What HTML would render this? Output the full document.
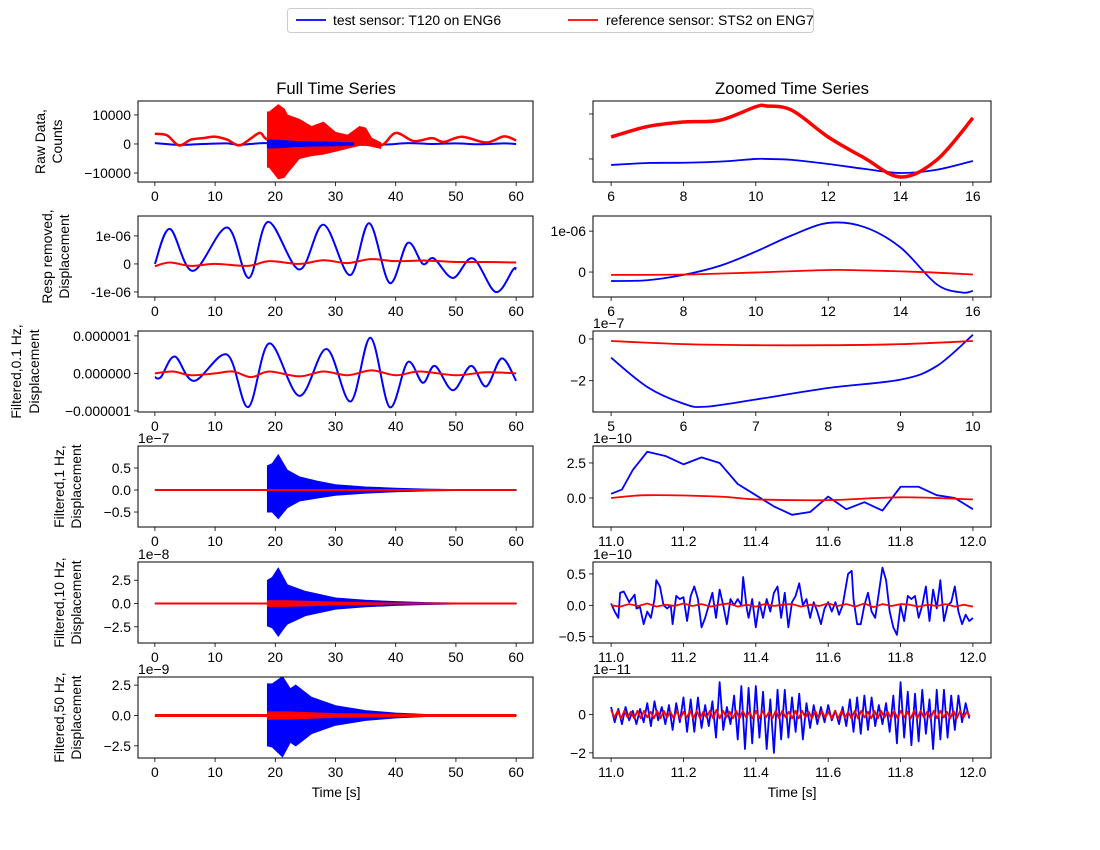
<!DOCTYPE html>
<html><head><meta charset="utf-8"><style>
body{margin:0;background:#fff}
svg{display:block;font-family:"Liberation Sans","DejaVu Sans",sans-serif}
</style></head><body>
<svg id="fig" width="1100" height="850" viewBox="0 0 1100 850" xmlns="http://www.w3.org/2000/svg">
<rect width="1100" height="850" fill="#fff"/>
<g>
<rect x="287.5" y="8.5" width="526" height="24" rx="3" fill="#fff" stroke="#ccc"/>
<line x1="296" y1="20" x2="326" y2="20" stroke="#0000ff" stroke-width="1.8"/>
<text x="333" y="25" font-size="13.9">test sensor: T120 on ENG6</text>
<line x1="568" y1="20" x2="598" y2="20" stroke="#ff0000" stroke-width="1.8"/>
<text x="606" y="25" font-size="13.9">reference sensor: STS2 on ENG7</text>
</g>
<text x="336" y="94" font-size="16.7" text-anchor="middle">Full Time Series</text>
<text x="792" y="94" font-size="16.7" text-anchor="middle">Zoomed Time Series</text>
<text x="336" y="797" font-size="13.9" text-anchor="middle">Time [s]</text>
<text x="792" y="797" font-size="13.9" text-anchor="middle">Time [s]</text>
</svg>
<script>
// ---------- data ----------
const fullTicks=[0,10,20,30,40,50,60];
// Row 1 raw counts
const r1RedT=[0,2,4,6,8,10,12,14,16,17.5,18.7,22,26,30,34,37.5,40,43,46,48,51,55,58,60];
const r1RedV=[3500,3000,-500,1500,2000,2500,1500,-500,2000,3800,1500,500,1000,500,2500,-500,3800,1000,2000,700,2500,500,2600,1200];
const r1RedBT=[18.7,19,20.5,21.5,22,24,26,28,30,32,34,35,36,37.5];
const r1RedBU=[11000,11000,13500,12000,10000,8500,6000,7500,4000,3000,6000,5500,2000,500];
const r1RedBL=[-8000,-8000,-12000,-11500,-10000,-5000,-4000,-3500,-2500,-1500,-500,-500,-800,-1500];
const r1BlueT=[0,4,8,12,14,18,22,26,30,34,38,42,46,50,54,58,60];
const r1BlueV=[300,-300,0,200,-300,300,0,200,0,500,-200,300,0,200,-100,200,0];
const r1BlueBT=[18.7,19,21,23,26,30,33];
const r1BlueBU=[2500,2800,2500,1800,1500,1200,800];
const r1BlueBL=[-2500,-2800,-2500,-1800,-1500,-1200,-800];
const r1zT=[6,7,8,9,10,10.3,11,12,13,14,15,16];
const r1zRed=[2440,3600,4110,4300,5800,5890,5400,2440,110,-2000,-110,4560];
const r1zBlue=[-670,-450,-420,-300,0,0,-100,-560,-1100,-1560,-1200,-220];
// Row 2 response removed (1e-6)
const r2T=[0,2.5,6.3,12,15.6,18.8,24,28,32.4,35.6,39,42,44.5,46.3,49.5,52.8,56.6,59.5,60];
const r2Blue=[0,1.25,-0.25,1.3,-0.5,1.5,-0.2,1.4,-0.4,1.45,-0.68,0.75,0,0.2,-0.5,0.2,-1.0,-0.2,-0.2];
const r2RT=[0,2.5,6,10,15.5,19,24,28,32,35.8,40,45,50,55,60];
const r2Red=[-0.08,0.05,-0.07,0,-0.07,0.1,0,0.13,0.03,0.17,0.1,0.12,0.07,0.07,0.05];
const r2zT=[6,7,8,9,10,11,12,13,14,15,15.7,16];
const r2zBlue=[-0.22,-0.2,-0.07,0.15,0.5,0.9,1.2,1.1,0.6,-0.3,-0.5,-0.46];
const r2zRT=[6,8,10,12,13,14.6,16];
const r2zRed=[-0.07,-0.06,-0.01,0.05,0.04,0,-0.06];
// Row 3 filtered 0.1 Hz (1e-6)
const r3T=[0,1,3.3,6.5,12,15.5,19,24,28.5,32.5,35.8,39,42,44.5,46.5,49.5,52.5,55,57.6,60];
const r3Blue=[-0.1,-0.1,0.45,-0.2,0.5,-0.9,0.8,-0.6,0.65,-0.75,0.95,-0.9,0.3,-0.25,0.2,-0.45,0.2,-0.35,0.4,-0.2];
const r3RT=[0,3,6,10,13,16,19,24,28,32,36,40,44,50,55,60];
const r3Red=[0,0.05,-0.05,0,0.05,-0.1,0.05,-0.08,0.05,-0.05,0.08,-0.05,0.05,-0.05,0.03,0];
const r3zT=[5,5.5,6,6.3,7,8,9,9.5,10];
const r3zBlue=[-0.9,-2.3,-3.1,-3.25,-2.9,-2.35,-1.95,-1.3,0.2];
const r3zRT=[5,6,7,8,9,10];
const r3zRed=[-0.1,-0.25,-0.3,-0.3,-0.25,-0.1];
// Row 4 filtered 1 Hz (1e-7 full, 1e-10 zoom)
const r4BT=[18.7,19.5,20.5,22,24,27,30,35,40,45,50,60];
const r4BU=[0.55,0.6,0.8,0.45,0.3,0.2,0.12,0.07,0.04,0.02,0.01,0.005];
const r4BL=[-0.5,-0.5,-0.65,-0.4,-0.25,-0.18,-0.12,-0.07,-0.04,-0.02,-0.01,-0.005];
const r4zT=[11.0,11.03,11.06,11.1,11.15,11.2,11.25,11.3,11.35,11.4,11.45,11.5,11.55,11.6,11.65,11.7,11.75,11.8,11.85,11.9,11.95,12.0];
const r4zBlue=[0.3,0.6,2.0,3.3,3.0,2.4,2.9,2.5,1.0,0.2,-0.6,-1.2,-1.0,0.1,-0.8,-0.3,-0.9,0.8,0.8,0.2,0,-0.8];
const r4zRT=[11,11.1,11.3,11.4,11.6,11.8,12];
const r4zRed=[0,0.2,0.1,-0.1,-0.15,0.05,-0.1];
// Row 5 filtered 10 Hz (1e-8 full, 1e-10 zoom)
const r5BT=[18.7,19.5,20.5,21.5,22,25,30,35,40,45,50,60];
const r5BU=[2.5,2.8,3.8,2.6,2.0,1.3,0.6,0.35,0.2,0.1,0.05,0.02];
const r5BL=[-2.4,-2.6,-3.5,-2.6,-2.2,-1.3,-0.6,-0.35,-0.2,-0.1,-0.05,-0.02];
const r5RBT=[18.7,22,30,40,60];
const r5RBU=[0.3,0.3,0.15,0.05,0.02];
const r5RBL=[-0.3,-0.3,-0.15,-0.05,-0.02];
const r5zT=[11.00,11.01,11.02,11.025,11.035,11.05,11.065,11.07,11.08,11.09,11.10,11.11,11.12,11.125,11.135,11.145,11.155,11.165,11.17,11.18,11.19,11.2,11.21,11.22,11.23,11.24,11.25,11.26,11.27,11.28,11.29,11.3,11.31,11.32,11.33,11.34,11.35,11.36,11.365,11.375,11.38,11.39,11.40,11.41,11.42,11.43,11.44,11.45,11.46,11.47,11.48,11.49,11.5,11.51,11.52,11.53,11.54,11.55,11.56,11.57,11.58,11.59,11.6,11.61,11.62,11.63,11.64,11.655,11.665,11.67,11.68,11.69,11.7,11.71,11.72,11.73,11.74,11.75,11.76,11.77,11.78,11.79,11.8,11.81,11.82,11.83,11.84,11.85,11.86,11.87,11.88,11.89,11.9,11.91,11.92,11.93,11.94,11.95,11.96,11.97,11.98,11.99,12.0];
const r5zBlue=[0.03,-0.1,-0.2,0.2,0.22,0.05,0.17,-0.05,-0.03,-0.3,-0.1,-0.2,0.1,0.4,0.3,0.0,-0.05,0.0,-0.3,0.15,0.1,0.13,-0.25,0.15,0.3,0.1,-0.35,-0.2,0.0,0.2,-0.2,0.25,0.0,-0.3,0.1,0.0,0.1,0.0,0.45,-0.05,-0.2,0.1,-0.35,0.05,-0.2,0.1,-0.1,0.2,0.3,-0.2,0.2,-0.35,0.05,0.15,0.35,0.0,0.1,-0.2,0.05,-0.1,-0.3,-0.05,0.05,-0.1,0.05,-0.15,0.0,0.5,0.55,0.1,-0.3,-0.3,0.0,0.2,-0.1,-0.2,0.2,0.6,0.4,-0.1,-0.35,-0.47,0.0,-0.25,0.15,0.1,0.15,-0.2,0.0,0.3,-0.25,0.25,-0.05,0.4,-0.25,0.0,0.05,0.3,-0.1,-0.3,-0.15,-0.25,-0.2];
const r5zRed=[0,-0.02,0.02,-0.01,0.03,-0.02,0.01,-0.01,0.03,-0.01,0.02,-0.02,0.01,0.03,-0.02,0.01,-0.02,0.02,-0.01,0.01,0.02,-0.02,0.01,-0.01,0.03,-0.01,0.02,-0.02,0.03,-0.03,0.02,-0.01,0.02,0.01,-0.02,0.01,-0.01,0.02,-0.02,0.01,-0.02];
// Row 6 filtered 50 Hz (1e-9 full, 1e-11 zoom)
const r6BT=[18.7,19.5,21.2,22.5,23.4,26,30,35,40,45,50,60];
const r6BU=[2.6,2.6,3.2,2.2,2.5,1.5,0.8,0.4,0.2,0.08,0.04,0.02];
const r6BL=[-2.5,-2.6,-3.4,-2.2,-2.5,-1.5,-0.8,-0.4,-0.2,-0.08,-0.04,-0.02];
const r6RBT=[18.7,22,30,40,46,60];
const r6RBU=[0.3,0.3,0.15,0.1,0.05,0.02];
const r6RBL=[-0.3,-0.3,-0.15,-0.1,-0.05,-0.02];
const r6zUp=[0.4,0.3,0.4,0.2,0.3,0.6,0.7,0.4,0.5,0.6,0.9,0.8,0.9,0.5,0.7,1.7,0.4,1.0,1.5,1.4,1.5,1.2,0.8,1.3,1.3,0.9,1.1,0.6,0.5,0.4,0.5,0.2,0.4,0.8,0.9,1.0,0.9,0.5,0.6,1.0,1.7,1.2,1.1,1.3,0.8,1.3,1.3,1.0,1.0,0.6];
const r6zLo=[-0.4,-0.5,-0.3,-0.5,-0.4,-0.6,-0.3,-0.5,-0.8,-0.4,-0.9,-0.9,-0.7,-0.6,-1.2,-0.8,-0.5,-1.3,-1.8,-1.5,-1.2,-1.8,-2.0,-1.3,-1.2,-0.9,-1.3,-0.7,-0.5,-0.4,-0.3,-0.5,-0.6,-0.9,-1.0,-0.8,-0.6,-0.5,-0.9,-1.5,-1.2,-1.6,-1.4,-1.0,-1.8,-1.3,-1.2,-0.8,-0.4,-0.2];
const r6zRedUp=[0.25,0.2,0.2,0.15,0.2,0.2,0.15,0.2,0.2,0.15,0.2,0.15,0.2,0.2,0.15,0.2,0.25,0.2,0.15,0.2,0.2,0.15,0.2,0.2,0.15,0.2,0.2,0.15,0.2,0.2,0.15,0.2,0.2,0.15,0.2,0.2,0.15,0.2,0.2,0.15,0.2,0.2,0.15,0.2,0.2,0.15,0.2,0.2,0.15,0.2,0.2,0.15,0.2,0.2,0.15];
const r6zRedLo=[-0.15,-0.2,-0.15,-0.2,-0.2,-0.15,-0.2,-0.2,-0.15,-0.2,-0.2,-0.15,-0.2,-0.2,-0.15,-0.2,-0.2,-0.15,-0.2,-0.2,-0.15,-0.2,-0.2,-0.15,-0.2,-0.2,-0.15,-0.2,-0.2,-0.15,-0.2,-0.2,-0.15,-0.2,-0.2,-0.15,-0.2,-0.2,-0.15,-0.2,-0.2,-0.15,-0.2,-0.2,-0.15,-0.2,-0.2,-0.15,-0.2,-0.2,-0.15,-0.2,-0.2,-0.15,-0.1];

// ---------- rendering ----------
const NS='http://www.w3.org/2000/svg';
const fig=document.getElementById('fig');
function mk(tag,attrs,parent){const e=document.createElementNS(NS,tag);for(const k in attrs)e.setAttribute(k,attrs[k]);(parent||fig).appendChild(e);return e;}
const tops=[101,216,331,446,562,677],H=81;
function makeAxes(name,col,row,xd,yd,xticks,xlab,yticks,ylab,offset,ylines,ylx){
  const x0=col?593:138,x1=col?991:533,y0=tops[row],y1=y0+H;
  const g=mk('g',{});
  
  
  const sx=v=>x0+(v-xd[0])/(xd[1]-xd[0])*(x1-x0);
  const sy=v=>y1-(v-yd[0])/(yd[1]-yd[0])*(y1-y0);
  const cid='clip-'+name;
  const cp=mk('clipPath',{id:cid},g);mk('rect',{x:x0,y:y0,width:x1-x0,height:H},cp);
  const plot=mk('g',{'clip-path':'url(#'+cid+')'},g);
  
  
  xticks.forEach((t,i)=>{const X=sx(t);mk('line',{x1:X,x2:X,y1:y1,y2:y1+4,stroke:'#000','stroke-width':0.8},g);
    const tx=mk('text',{x:X,y:y1+19,'font-size':13.9,'text-anchor':'middle'},g);tx.textContent=xlab[i];
    
    });
  yticks.forEach((t,i)=>{const Y=sy(t);mk('line',{x1:x0-4,x2:x0,y1:Y,y2:Y,stroke:'#000','stroke-width':0.8},g);
    if(ylab[i]!==''){const tx=mk('text',{x:x0-7,y:Y+5,'font-size':13.9,'text-anchor':'end'},g);tx.textContent=ylab[i];
    
    }});
  if(offset){const o=mk('text',{x:x0,y:y0-3,'font-size':13.9},g);o.textContent=offset;
    
    }
  if(ylines){ylines.forEach((s,i)=>{const X=ylx[i],Y=(y0+y1)/2;const t=mk('text',{x:X,y:Y,'font-size':13.9,'text-anchor':'middle',transform:`rotate(-90 ${X} ${Y})`},g);t.textContent=s;
    
    });}
  mk('rect',{x:x0,y:y0,width:x1-x0,height:H,fill:'none',stroke:'#000','stroke-width':1},g);
  return {sx,sy,plot};
}
function smooth(ax,xs,ys,color,w,name){
  const P=xs.map((x,i)=>[ax.sx(x),ax.sy(ys[i])]);
  let d='M'+P[0][0]+','+P[0][1];
  for(let i=0;i<P.length-1;i++){const p0=P[i-1]||P[i],p1=P[i],p2=P[i+1],p3=P[i+2]||P[i+1];
    const c1=[p1[0]+(p2[0]-p0[0])/6,p1[1]+(p2[1]-p0[1])/6],c2=[p2[0]-(p3[0]-p1[0])/6,p2[1]-(p3[1]-p1[1])/6];
    d+=`C${c1[0]},${c1[1]} ${c2[0]},${c2[1]} ${p2[0]},${p2[1]}`;}
  const e=mk('path',{d,fill:'none',stroke:color,'stroke-width':w,'stroke-linejoin':'round'},ax.plot);
  
  
}
function linear(ax,xs,ys,color,w,name){
  const e=mk('polyline',{points:xs.map((x,i)=>ax.sx(x)+','+ax.sy(ys[i])).join(' '),fill:'none',stroke:color,'stroke-width':w,'stroke-linejoin':'round'},ax.plot);
  
  
}
function band(ax,xs,up,lo,color,name){
  const pts=xs.map((x,i)=>ax.sx(x)+','+ax.sy(up[i])).concat(xs.slice().reverse().map((x,j)=>ax.sx(x)+','+ax.sy(lo[xs.length-1-j])));
  const e=mk('polygon',{points:pts.join(' '),fill:color,stroke:color,'stroke-width':1},ax.plot);
  
  
}
function alt(t0,dt,up,lo){const xs=[],ys=[];for(let i=0;i<up.length;i++){xs.push(t0+i*dt);ys.push(up[i]);if(i<lo.length){xs.push(t0+i*dt+dt/2);ys.push(lo[i]);}}return [xs,ys];}
const FX=[-2.8,62.8],FL=fullTicks.map(String);
const zx1=[6,8,10,12,14,16],zx3=[5,6,7,8,9,10],zx4=[11.0,11.2,11.4,11.6,11.8,12.0];
const zl4=zx4.map(v=>v.toFixed(1));

// Row 1
let a=makeAxes('raw-full',0,0,FX,[-13100,14800],fullTicks,FL,[10000,0,-10000],['10000','0','\u221210000'],null,['Raw Data,','Counts'],[45,62]);
smooth(a,r1BlueT,r1BlueV,'#0000ff',2,'raw-test-line');
band(a,r1BlueBT,r1BlueBU,r1BlueBL,'#0000ff','raw-test-burst');
smooth(a,r1RedT,r1RedV,'#ff0000',2.5,'raw-ref-line');
band(a,r1RedBT,r1RedBU,r1RedBL,'#ff0000','raw-ref-burst');
band(a,r1BlueBT,r1BlueBU.map(v=>v*0.5),r1BlueBL.map(v=>v*0.5),'#0000ff','raw-test-burst-core');
a=makeAxes('raw-zoom',1,0,[5.5,16.5],[-2560,6440],zx1,zx1.map(String),[0,5000],['',''],null);
smooth(a,r1zT,r1zBlue,'#0000ff',1.8,'raw-zoom-test');
smooth(a,r1zT,r1zRed,'#ff0000',3.5,'raw-zoom-ref');
// Row 2
a=makeAxes('resp-full',0,1,FX,[-1.18,1.71],fullTicks,FL,[1,0,-1],['1e-06','0','-1e-06'],null,['Resp removed,','Displacement'],[52,69]);
smooth(a,r2T,r2Blue,'#0000ff',2,'resp-test-line');
smooth(a,r2RT,r2Red,'#ff0000',2,'resp-ref-line');
a=makeAxes('resp-zoom',1,1,[5.5,16.5],[-0.61,1.37],zx1,zx1.map(String),[1,0],['1e-06','0'],null);
smooth(a,r2zT,r2zBlue,'#0000ff',1.8,'resp-zoom-test');
smooth(a,r2zRT,r2zRed,'#ff0000',1.8,'resp-zoom-ref');
// Row 3
a=makeAxes('f01-full',0,2,FX,[-1.03,1.13],fullTicks,FL,[1,0,-1],['0.000001','0.000000','\u22120.000001'],null,['Filtered,0.1 Hz,','Displacement'],[21,39]);
smooth(a,r3T,r3Blue,'#0000ff',2,'f01-test-line');
smooth(a,r3RT,r3Red,'#ff0000',2,'f01-ref-line');
a=makeAxes('f01-zoom',1,2,[4.75,10.25],[-3.5,0.38],zx3,zx3.map(String),[0,-2],['0','\u22122'],'1e\u22127');
smooth(a,r3zT,r3zBlue,'#0000ff',1.8,'f01-zoom-test');
smooth(a,r3zRT,r3zRed,'#ff0000',1.8,'f01-zoom-ref');
// Row 4
a=makeAxes('f1-full',0,3,FX,[-0.84,1.0],fullTicks,FL,[0.5,0,-0.5],['0.5','0.0','\u22120.5'],'1e\u22127',['Filtered,1 Hz,','Displacement'],[64,81]);
linear(a,[0,60],[0,0],'#0000ff',2,'f1-test-baseline');
band(a,r4BT,r4BU,r4BL,'#0000ff','f1-test-burst');
linear(a,[0,60],[0,0],'#ff0000',2,'f1-ref-line');
a=makeAxes('f1-zoom',1,3,[10.95,12.05],[-2.07,3.71],zx4,zl4,[2.5,0],['2.5','0.0'],'1e\u221210');
linear(a,r4zT,r4zBlue,'#0000ff',1.8,'f1-zoom-test');
smooth(a,r4zRT,r4zRed,'#ff0000',1.8,'f1-zoom-ref');
// Row 5
a=makeAxes('f10-full',0,4,FX,[-4.24,4.46],fullTicks,FL,[2.5,0,-2.5],['2.5','0.0','\u22122.5'],'1e\u22128',['Filtered,10 Hz,','Displacement'],[64,81]);
linear(a,[0,60],[0,0],'#0000ff',2,'f10-test-baseline');
band(a,r5BT,r5BU,r5BL,'#0000ff','f10-test-burst');
linear(a,[0,60],[0,0],'#ff0000',2,'f10-ref-line');
band(a,r5RBT,r5RBU,r5RBL,'#ff0000','f10-ref-burst');
a=makeAxes('f10-zoom',1,4,[10.95,12.05],[-0.6,0.69],zx4,zl4,[0.5,0,-0.5],['0.5','0.0','\u22120.5'],'1e\u221210');
linear(a,r5zT,r5zBlue,'#0000ff',1.8,'f10-zoom-test');
linear(a,r5zRed.map((v,i)=>11+i*0.025),r5zRed,'#ff0000',1.8,'f10-zoom-ref');
// Row 6
a=makeAxes('f50-full',0,5,FX,[-3.5,3.17],fullTicks,FL,[2.5,0,-2.5],['2.5','0.0','\u22122.5'],'1e\u22129',['Filtered,50 Hz,','Displacement'],[64,81]);
band(a,r6BT,r6BU,r6BL,'#0000ff','f50-test-burst');
band(a,r6RBT,r6RBU,r6RBL,'#ff0000','f50-ref-burst');
linear(a,[0,60],[0,0],'#ff0000',3,'f50-ref-line');
linear(a,[0,60],[0,0],'#a0208f',1,'f50-overlap-line');
a=makeAxes('f50-zoom',1,5,[10.95,12.05],[-2.27,1.97],zx4,zl4,[0,-2],['0','\u22122'],'1e\u221211');
let s=alt(11.0,0.02,r6zUp,r6zLo);
linear(a,s[0],s[1],'#0000ff',1.8,'f50-zoom-test');
s=alt(11.0,0.0182,r6zRedUp,r6zRedLo);
linear(a,s[0],s[1],'#ff0000',1.8,'f50-zoom-ref');
</script>
</body></html>
